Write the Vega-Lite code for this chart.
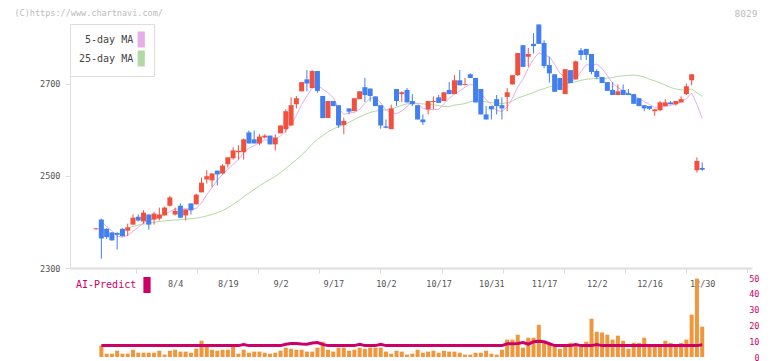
{
  "$schema": "https://vega.github.io/schema/vega-lite/v6.json",
  "autosize": {"type": "pad"},
  "padding": {"left": 14, "top": 8, "right": 0, "bottom": 0},
  "background": "white",
  "spacing": 10,
  "bounds": "flush",
  "config": {
    "view": {"stroke": null},
    "font": "DejaVu Sans Mono",
    "axis": {"labelFont": "DejaVu Sans Mono", "titleFont": "DejaVu Sans Mono", "labelFlush": false, "labelOverlap": false, "grid": false},
    "legend": {"labelFont": "DejaVu Sans Mono", "titleFont": "DejaVu Sans Mono"},
    "axisLeft": {"domainColor": "#dddddd", "tickColor": "#dddddd", "tickSize": 5, "labelFontSize": 8.5, "labelColor": "#555555", "labelPadding": 5, "titleAngle": 0, "titleX": -56, "titleY": -16, "titleAlign": "left", "titleBaseline": "top", "titleFontSize": 8.5, "titleFontWeight": "normal", "titleColor": "#bbbbbb"},
    "axisBottom": {"domainColor": "#dddddd", "domainWidth": 2, "tickColor": "#dddddd", "tickSize": 5, "labels": false, "titleX": 687, "titleY": -260, "titleAlign": "right", "titleBaseline": "top", "titleFontSize": 9.5, "titleFontWeight": "normal", "titleColor": "#bbbbbb"},
    "axisTop": {"domain": false, "ticks": false, "tickSize": 0, "labelFontSize": 8.5, "labelColor": "#555555", "labelPadding": -5, "labelBaseline": "middle"},
    "axisRight": {"domain": false, "ticks": false, "tickSize": 0, "labelFontSize": 8.5, "labelColor": "#cc0066", "labelPadding": 7, "labelAlign": "right"}
  },
  "datasets": {
    "d": [
      {"i":0,"o":2384,"h":2386,"l":2383,"c":2386,"ma5":null,"ma25":null,"v":null,"ai":null},
      {"i":1,"o":2405,"h":2407,"l":2320,"c":2364,"ma5":2401,"ma25":null,"v":7.2,"ai":7.2},
      {"i":2,"o":2385,"h":2386,"l":2363,"c":2367,"ma5":2390,"ma25":null,"v":2.1,"ai":7.2},
      {"i":3,"o":2377,"h":2378,"l":2359,"c":2360,"ma5":2380,"ma25":null,"v":2.1,"ai":7.2},
      {"i":4,"o":2376,"h":2377,"l":2340,"c":2372,"ma5":2369.8,"ma25":null,"v":4.0,"ai":7.2},
      {"i":5,"o":2385,"h":2386,"l":2368,"c":2369,"ma5":2366.4,"ma25":null,"v":2.1,"ai":7.2},
      {"i":6,"o":2381,"h":2396,"l":2369,"c":2388,"ma5":2371.2,"ma25":2387,"v":2.1,"ai":7.2},
      {"i":7,"o":2394,"h":2416,"l":2394,"c":2409,"ma5":2379.6,"ma25":2390,"v":4.6,"ai":7.2},
      {"i":8,"o":2411,"h":2416,"l":2401,"c":2403,"ma5":2388.2,"ma25":2393,"v":2.7,"ai":7.2},
      {"i":9,"o":2401,"h":2425,"l":2396,"c":2420,"ma5":2397.8,"ma25":2395,"v":2.7,"ai":7.2},
      {"i":10,"o":2416,"h":2416,"l":2383,"c":2394,"ma5":2402.8,"ma25":2397,"v":2.7,"ai":7.2},
      {"i":11,"o":2405,"h":2422,"l":2394,"c":2418,"ma5":2408.8,"ma25":2399,"v":2.7,"ai":7.2},
      {"i":12,"o":2407,"h":2431,"l":2403,"c":2416,"ma5":2410.2,"ma25":2401,"v":4.0,"ai":7.2},
      {"i":13,"o":2414,"h":2433,"l":2414,"c":2431,"ma5":2415.8,"ma25":2402,"v":1.5,"ai":7.2},
      {"i":14,"o":2435,"h":2457,"l":2433,"c":2453,"ma5":2422.4,"ma25":2403,"v":4.0,"ai":7.2},
      {"i":15,"o":2416,"h":2431,"l":2414,"c":2424,"ma5":2428.4,"ma25":2404,"v":4.6,"ai":7.2},
      {"i":16,"o":2435,"h":2440,"l":2409,"c":2409,"ma5":2426.6,"ma25":2405,"v":3.4,"ai":7.2},
      {"i":17,"o":2414,"h":2427,"l":2403,"c":2427,"ma5":2428.8,"ma25":2406,"v":3.4,"ai":7.2},
      {"i":18,"o":2440,"h":2440,"l":2416,"c":2425,"ma5":2427.6,"ma25":2407,"v":2.7,"ai":7.2},
      {"i":19,"o":2438,"h":2461,"l":2438,"c":2459,"ma5":2428.8,"ma25":2408,"v":5.2,"ai":7.2},
      {"i":20,"o":2464,"h":2496,"l":2464,"c":2485,"ma5":2441,"ma25":2410,"v":10.3,"ai":7.2},
      {"i":21,"o":2492,"h":2512,"l":2483,"c":2499,"ma5":2459,"ma25":2413,"v":7.2,"ai":7.2},
      {"i":22,"o":2490,"h":2505,"l":2475,"c":2505,"ma5":2474.6,"ma25":2416,"v":4.6,"ai":7.2},
      {"i":23,"o":2511,"h":2511,"l":2479,"c":2503,"ma5":2490.2,"ma25":2420,"v":4.0,"ai":7.2},
      {"i":24,"o":2505,"h":2525,"l":2503,"c":2522,"ma5":2502.8,"ma25":2424.3,"v":4.6,"ai":7.2},
      {"i":25,"o":2525,"h":2540,"l":2518,"c":2540,"ma5":2513.8,"ma25":2430.5,"v":4.6,"ai":7.2},
      {"i":26,"o":2538,"h":2562,"l":2535,"c":2555,"ma5":2525,"ma25":2438.1,"v":6.3,"ai":7.2},
      {"i":27,"o":2551,"h":2566,"l":2535,"c":2554,"ma5":2534.8,"ma25":2445.6,"v":2.1,"ai":7.2},
      {"i":28,"o":2551,"h":2581,"l":2535,"c":2579,"ma5":2550,"ma25":2454.4,"v":4.6,"ai":7.9},
      {"i":29,"o":2594,"h":2598,"l":2570,"c":2570,"ma5":2559.6,"ma25":2462.3,"v":2.7,"ai":7.2},
      {"i":30,"o":2579,"h":2598,"l":2570,"c":2570,"ma5":2565.6,"ma25":2470.3,"v":3.4,"ai":7.2},
      {"i":31,"o":2570,"h":2590,"l":2566,"c":2585,"ma5":2571.6,"ma25":2478.2,"v":3.4,"ai":7.2},
      {"i":32,"o":2583,"h":2590,"l":2581,"c":2587,"ma5":2578.2,"ma25":2485.3,"v":2.7,"ai":7.2},
      {"i":33,"o":2587,"h":2587,"l":2568,"c":2568,"ma5":2576,"ma25":2491.9,"v":2.1,"ai":7.2},
      {"i":34,"o":2568,"h":2590,"l":2555,"c":2583,"ma5":2578.6,"ma25":2498.4,"v":2.7,"ai":7.2},
      {"i":35,"o":2592,"h":2609,"l":2592,"c":2609,"ma5":2586.4,"ma25":2507,"v":4.0,"ai":7.2},
      {"i":36,"o":2601,"h":2644,"l":2594,"c":2640,"ma5":2597.4,"ma25":2515.9,"v":5.9,"ai":8.1},
      {"i":37,"o":2609,"h":2670,"l":2609,"c":2653,"ma5":2610.6,"ma25":2525.4,"v":5.2,"ai":8.6},
      {"i":38,"o":2655,"h":2673,"l":2646,"c":2668,"ma5":2630.6,"ma25":2534.9,"v":4.6,"ai":8.6},
      {"i":39,"o":2683,"h":2703,"l":2683,"c":2703,"ma5":2654.6,"ma25":2544.9,"v":4.6,"ai":8.2},
      {"i":40,"o":2709,"h":2729,"l":2683,"c":2700,"ma5":2672.8,"ma25":2555.9,"v":3.4,"ai":8.1},
      {"i":41,"o":2690,"h":2729,"l":2690,"c":2727,"ma5":2690.2,"ma25":2568.6,"v":3.4,"ai":8.8},
      {"i":42,"o":2727,"h":2727,"l":2680,"c":2684,"ma5":2696.4,"ma25":2578.9,"v":5.9,"ai":9.1},
      {"i":43,"o":2673,"h":2673,"l":2625,"c":2625,"ma5":2687.8,"ma25":2586.9,"v":9.7,"ai":8.0},
      {"i":44,"o":2625,"h":2662,"l":2625,"c":2662,"ma5":2679.6,"ma25":2595,"v":4.6,"ai":7.2},
      {"i":45,"o":2662,"h":2662,"l":2651,"c":2651,"ma5":2669.8,"ma25":2601.7,"v":3.4,"ai":7.2},
      {"i":46,"o":2653,"h":2653,"l":2604,"c":2609,"ma5":2646.2,"ma25":2606.1,"v":5.9,"ai":7.2},
      {"i":47,"o":2610,"h":2626,"l":2590,"c":2619,"ma5":2633.2,"ma25":2610.6,"v":5.9,"ai":7.2},
      {"i":48,"o":2646,"h":2646,"l":2633,"c":2639,"ma5":2636,"ma25":2616.1,"v":4.0,"ai":7.2},
      {"i":49,"o":2640,"h":2668,"l":2640,"c":2668,"ma5":2637.2,"ma25":2621.9,"v":4.6,"ai":7.2},
      {"i":50,"o":2666,"h":2683,"l":2666,"c":2683,"ma5":2643.6,"ma25":2627.6,"v":5.9,"ai":8.0},
      {"i":51,"o":2692,"h":2712,"l":2660,"c":2675,"ma5":2656.8,"ma25":2632.4,"v":5.2,"ai":7.2},
      {"i":52,"o":2689,"h":2689,"l":2661,"c":2673,"ma5":2667.6,"ma25":2637.2,"v":5.9,"ai":7.2},
      {"i":53,"o":2672,"h":2672,"l":2651,"c":2651,"ma5":2670,"ma25":2640.1,"v":5.9,"ai":7.2},
      {"i":54,"o":2653,"h":2653,"l":2602,"c":2609,"ma5":2658.2,"ma25":2641.6,"v":5.9,"ai":8.0},
      {"i":55,"o":2607,"h":2622,"l":2603,"c":2604,"ma5":2642.4,"ma25":2643,"v":3.4,"ai":7.2},
      {"i":56,"o":2601,"h":2654,"l":2601,"c":2646,"ma5":2636.6,"ma25":2645.4,"v":2.1,"ai":7.2},
      {"i":57,"o":2688,"h":2688,"l":2651,"c":2662,"ma5":2634.4,"ma25":2648.4,"v":4.0,"ai":7.2},
      {"i":58,"o":2677,"h":2683,"l":2660,"c":2681,"ma5":2640.4,"ma25":2652.9,"v":3.4,"ai":7.2},
      {"i":59,"o":2686,"h":2690,"l":2659,"c":2659,"ma5":2650.4,"ma25":2656,"v":1.5,"ai":7.2},
      {"i":60,"o":2662,"h":2677,"l":2651,"c":2655,"ma5":2660.6,"ma25":2657.8,"v":2.1,"ai":7.2},
      {"i":61,"o":2653,"h":2653,"l":2622,"c":2622,"ma5":2655.8,"ma25":2657.1,"v":4.6,"ai":7.2},
      {"i":62,"o":2622,"h":2633,"l":2610,"c":2616,"ma5":2646.6,"ma25":2655.6,"v":2.7,"ai":7.2},
      {"i":63,"o":2644,"h":2662,"l":2633,"c":2662,"ma5":2642.8,"ma25":2655.4,"v":3.4,"ai":7.2},
      {"i":64,"o":2660,"h":2672,"l":2644,"c":2662,"ma5":2643.4,"ma25":2653.7,"v":4.0,"ai":7.2},
      {"i":65,"o":2670,"h":2675,"l":2658,"c":2658,"ma5":2644,"ma25":2652.1,"v":2.7,"ai":7.2},
      {"i":66,"o":2662,"h":2681,"l":2662,"c":2681,"ma5":2655.8,"ma25":2650.2,"v":4.0,"ai":7.2},
      {"i":67,"o":2686,"h":2703,"l":2677,"c":2677,"ma5":2668,"ma25":2649.9,"v":3.4,"ai":7.2},
      {"i":68,"o":2677,"h":2718,"l":2677,"c":2707,"ma5":2677,"ma25":2653.2,"v":3.4,"ai":7.2},
      {"i":69,"o":2707,"h":2729,"l":2696,"c":2696,"ma5":2683.8,"ma25":2654.6,"v":2.7,"ai":7.2},
      {"i":70,"o":2697,"h":2712,"l":2696,"c":2699,"ma5":2692,"ma25":2656.5,"v":1.5,"ai":7.2},
      {"i":71,"o":2720,"h":2722,"l":2712,"c":2712,"ma5":2698.2,"ma25":2660.6,"v":1.5,"ai":7.2},
      {"i":72,"o":2712,"h":2712,"l":2659,"c":2659,"ma5":2694.6,"ma25":2662.2,"v":2.7,"ai":7.2},
      {"i":73,"o":2688,"h":2688,"l":2633,"c":2633,"ma5":2679.8,"ma25":2662,"v":2.7,"ai":7.2},
      {"i":74,"o":2633,"h":2651,"l":2622,"c":2622,"ma5":2665,"ma25":2660.1,"v":4.0,"ai":7.2},
      {"i":75,"o":2651,"h":2651,"l":2622,"c":2644,"ma5":2654,"ma25":2658.6,"v":2.1,"ai":7.2},
      {"i":76,"o":2666,"h":2675,"l":2633,"c":2651,"ma5":2641.8,"ma25":2657.6,"v":1.5,"ai":7.2},
      {"i":77,"o":2653,"h":2670,"l":2622,"c":2646,"ma5":2639.2,"ma25":2656.7,"v":4.6,"ai":7.2},
      {"i":78,"o":2671,"h":2690,"l":2640,"c":2681,"ma5":2648.8,"ma25":2657.9,"v":11,"ai":8.4},
      {"i":79,"o":2698,"h":2718,"l":2698,"c":2718,"ma5":2668,"ma25":2662.2,"v":11,"ai":8.4},
      {"i":80,"o":2718,"h":2766,"l":2716,"c":2766,"ma5":2692.4,"ma25":2668.7,"v":14.1,"ai":8.6},
      {"i":81,"o":2783,"h":2783,"l":2736,"c":2736,"ma5":2709.4,"ma25":2672.3,"v":5.9,"ai":9.2},
      {"i":82,"o":2758,"h":2777,"l":2736,"c":2764,"ma5":2733,"ma25":2676.4,"v":12.2,"ai":8.2},
      {"i":83,"o":2786,"h":2809,"l":2765,"c":2781,"ma5":2753,"ma25":2680.4,"v":12.2,"ai":9.6},
      {"i":84,"o":2828,"h":2828,"l":2786,"c":2786,"ma5":2766.6,"ma25":2685.5,"v":20.4,"ai":9.9},
      {"i":85,"o":2788,"h":2794,"l":2733,"c":2738,"ma5":2761,"ma25":2688.8,"v":9.7,"ai":9.6},
      {"i":86,"o":2740,"h":2758,"l":2702,"c":2722,"ma5":2758.2,"ma25":2692.8,"v":8.9,"ai":8.4},
      {"i":87,"o":2720,"h":2720,"l":2682,"c":2682,"ma5":2741.8,"ma25":2695.4,"v":6.5,"ai":7.2},
      {"i":88,"o":2712,"h":2712,"l":2686,"c":2686,"ma5":2722.8,"ma25":2696.4,"v":5.2,"ai":7.2},
      {"i":89,"o":2677,"h":2731,"l":2677,"c":2731,"ma5":2711.8,"ma25":2699.1,"v":6.5,"ai":7.2},
      {"i":90,"o":2729,"h":2729,"l":2701,"c":2701,"ma5":2704.4,"ma25":2700.9,"v":9.0,"ai":7.2},
      {"i":91,"o":2709,"h":2750,"l":2709,"c":2748,"ma5":2709.6,"ma25":2703.5,"v":6.9,"ai":7.9},
      {"i":92,"o":2772,"h":2777,"l":2751,"c":2762,"ma5":2725.6,"ma25":2706.9,"v":6.5,"ai":7.2},
      {"i":93,"o":2775,"h":2775,"l":2751,"c":2762,"ma5":2740.8,"ma25":2709.1,"v":9.7,"ai":7.2},
      {"i":94,"o":2764,"h":2764,"l":2720,"c":2725,"ma5":2739.6,"ma25":2710.3,"v":24.2,"ai":7.2},
      {"i":95,"o":2727,"h":2731,"l":2709,"c":2714,"ma5":2742.2,"ma25":2710.9,"v":16,"ai":7.9},
      {"i":96,"o":2714,"h":2714,"l":2701,"c":2701,"ma5":2732.8,"ma25":2710.5,"v":15.5,"ai":7.2},
      {"i":97,"o":2703,"h":2703,"l":2684,"c":2684,"ma5":2717.2,"ma25":2711.5,"v":14.1,"ai":7.2},
      {"i":98,"o":2686,"h":2703,"l":2675,"c":2675,"ma5":2699.8,"ma25":2713.1,"v":11,"ai":7.2},
      {"i":99,"o":2675,"h":2698,"l":2675,"c":2683,"ma5":2691.4,"ma25":2715.6,"v":13.5,"ai":7.2},
      {"i":100,"o":2686,"h":2698,"l":2675,"c":2675,"ma5":2683.6,"ma25":2716.8,"v":10.3,"ai":7.2},
      {"i":101,"o":2679,"h":2688,"l":2675,"c":2675,"ma5":2678.4,"ma25":2717.8,"v":5.2,"ai":7.2},
      {"i":102,"o":2677,"h":2677,"l":2656,"c":2656,"ma5":2672.8,"ma25":2718.2,"v":9.0,"ai":7.2},
      {"i":103,"o":2668,"h":2668,"l":2651,"c":2651,"ma5":2668,"ma25":2717,"v":8.9,"ai":7.2},
      {"i":104,"o":2653,"h":2653,"l":2640,"c":2646,"ma5":2660.6,"ma25":2714.1,"v":12.2,"ai":7.2},
      {"i":105,"o":2651,"h":2651,"l":2643,"c":2645,"ma5":2654.6,"ma25":2709.3,"v":6.5,"ai":7.2},
      {"i":106,"o":2640,"h":2644,"l":2630,"c":2644,"ma5":2648.4,"ma25":2705.6,"v":6.5,"ai":7.2},
      {"i":107,"o":2642,"h":2662,"l":2640,"c":2659,"ma5":2649,"ma25":2701.4,"v":6.5,"ai":7.2},
      {"i":108,"o":2651,"h":2666,"l":2651,"c":2659,"ma5":2650.6,"ma25":2696.5,"v":10.3,"ai":7.2},
      {"i":109,"o":2659,"h":2662,"l":2655,"c":2655,"ma5":2652.4,"ma25":2691.3,"v":8.9,"ai":7.2},
      {"i":110,"o":2655,"h":2662,"l":2652,"c":2662,"ma5":2655.8,"ma25":2688.2,"v":6.5,"ai":7.2},
      {"i":111,"o":2659,"h":2672,"l":2659,"c":2666,"ma5":2660.2,"ma25":2686,"v":8.9,"ai":7.2},
      {"i":112,"o":2677,"h":2700,"l":2675,"c":2694,"ma5":2667.2,"ma25":2686.5,"v":11,"ai":7.2},
      {"i":113,"o":2707,"h":2720,"l":2696,"c":2720,"ma5":2679.4,"ma25":2687.8,"v":26.8,"ai":7.2},
      {"i":114,"o":2512,"h":2540,"l":2507,"c":2532,"ma5":2654.8,"ma25":2679.9,"v":49.6,"ai":7.2},
      {"i":115,"o":2517,"h":2529,"l":2511,"c":2513,"ma5":2625,"ma25":2672.3,"v":19.2,"ai":7.8}
    ]
  },
  "vconcat": [
    {
      "width": 682,
      "height": 244,
      "data": {"name": "d"},
      "encoding": {
        "x": {"field": "i", "type": "quantitative", "scale": {"domain": [-4, 123.5], "nice": false, "zero": false},
              "axis": {"orient": "bottom", "values": [7.591, 19.182, 30.773, 42.364, 53.955, 65.545, 77.136, 88.727, 100.318, 111.909, 123.5], "title": "8029"}}
      },
      "layer": [
        {
          "transform": [{"filter": "isValid(datum.ma25)"}],
          "mark": {"type": "line", "strokeWidth": 1, "interpolate": "linear"},
          "encoding": {
            "y": {"field": "ma25", "type": "quantitative", "scale": {"domain": [2300, 2829], "nice": false, "zero": false},
                  "title": "(C)https://www.chartnavi.com/", "axis": {"orient": "left", "values": [2300, 2500, 2700], "format": "d"}},
            "stroke": {"datum": "25-day MA", "type": "nominal",
              "scale": {"domain": ["5-day MA", "25-day MA"], "range": ["#e6aee6", "#b3d9a3"]},
              "legend": {"orient": "none", "legendX": 0, "legendY": 0, "title": null, "padding": 7, "strokeColor": "#dddddd", "fillColor": "#ffffff",
                         "direction": "vertical", "symbolOffset": 55.7, "labelOffset": -16.5, "labelAlign": "right", "labelFontSize": 10, "labelColor": "#444444",
                         "labelLimit": 200, "rowPadding": -2.4, "symbolType": "M-0.4,-1H0.4V1H-0.4Z", "symbolSize": 225,
                         "symbolStrokeColor": "#666666", "symbolStrokeWidth": 1,
                         "encode": {"symbols": {"update": {"fill": {"scale": "stroke", "field": "value"}, "stroke": {"value": "#666666"}, "strokeWidth": {"value": 1.2}, "opacity": {"value": 1}}}}}}
          }
        },
        {
          "transform": [{"filter": "isValid(datum.ma5)"}],
          "mark": {"type": "line", "strokeWidth": 1},
          "encoding": {
            "y": {"field": "ma5", "type": "quantitative", "title": "(C)https://www.chartnavi.com/"},
            "stroke": {"datum": "5-day MA", "type": "nominal"}
          }
        },
        {
          "mark": {"type": "rule", "strokeWidth": 1},
          "encoding": {
            "y": {"field": "l", "type": "quantitative", "title": "(C)https://www.chartnavi.com/"},
            "y2": {"field": "h"},
            "color": {"condition": {"test": "datum.c >= datum.o", "value": "#f2503f"}, "value": "#427ff0"}
          }
        },
        {
          "mark": {"type": "bar", "size": 5},
          "encoding": {
            "y": {"field": "o", "type": "quantitative", "title": "(C)https://www.chartnavi.com/"},
            "y2": {"field": "c"},
            "color": {"condition": {"test": "datum.c >= datum.o", "value": "#f2503f"}, "value": "#427ff0"}
          }
        }
      ]
    },
    {
      "width": 682,
      "height": 79,
      "data": {"name": "d"},
      "transform": [{"filter": "isValid(datum.v)"}],
      "encoding": {
        "x": {"field": "i", "type": "quantitative", "scale": {"domain": [-4, 123.5], "nice": false, "zero": false},
              "axis": {"orient": "top", "title": null, "values": [15, 25, 35, 45, 55, 65, 75, 85, 95, 105, 115],
                       "labelExpr": "['8/4','8/19','9/2','9/17','10/2','10/17','10/31','11/17','12/2','12/16','12/30'][(datum.value-15)/10]"}}
      },
      "layer": [
        {
          "mark": {"type": "bar", "size": 4, "color": "#f0963c"},
          "encoding": {
            "y": {"field": "v", "type": "quantitative", "scale": {"domain": [0, 50], "nice": false},
                  "title": null, "axis": {"orient": "right", "values": [0, 10, 20, 30, 40, 50], "labelOverlap": false, "labelBound": false}}
          }
        },
        {
          "mark": {"type": "line", "strokeWidth": 3},
          "encoding": {
            "y": {"field": "ai", "type": "quantitative", "title": null,
                  "axis": {"orient": "right", "values": [0, 10, 20, 30, 40, 50], "labelOverlap": false, "labelBound": false}},
            "color": {"datum": "AI-Predict", "type": "nominal", "scale": {"domain": ["AI-Predict"], "range": ["#cc0066"]},
              "legend": {"orient": "none", "legendX": 6, "legendY": 253, "title": "AI-Predict", "titleOrient": "left", "titleAnchor": "middle",
                         "titleBaseline": "middle", "titleFontSize": 10, "titleFontWeight": "normal", "titleColor": "#cc0066", "titlePadding": 2,
                         "labelExpr": "''", "padding": 0, "symbolType": "M-0.45,-1H0.45V1H-0.45Z", "symbolSize": 256,
                         "encode": {"symbols": {"update": {"fill": {"value": "#cc0066"}, "stroke": {"value": "#cc0066"}, "strokeWidth": {"value": 0}, "opacity": {"value": 1}}}}}}
          }
        }
      ]
    }
  ]
}
